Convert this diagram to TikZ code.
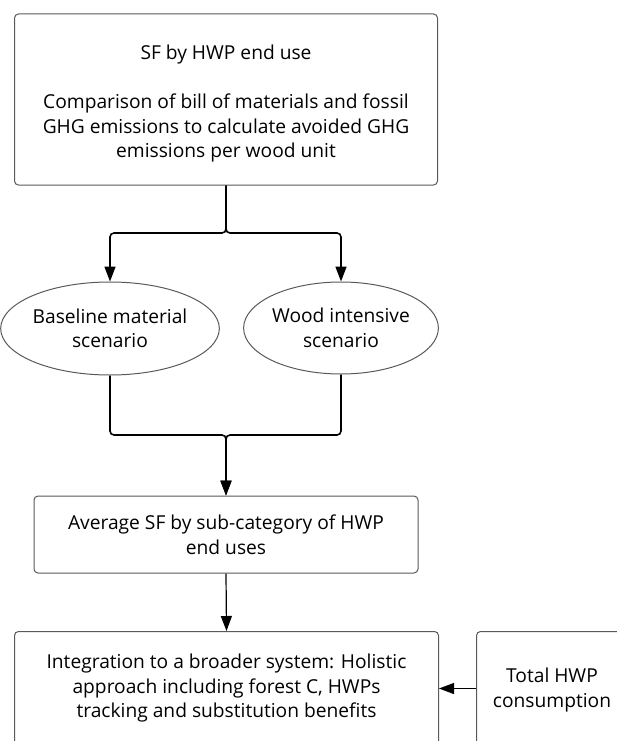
\documentclass[tikz,border=0pt]{standalone}
\usepackage{fontspec}
\setmainfont{Open Sans}
\usetikzlibrary{shapes.geometric,arrows.meta}

\begin{document}
\begin{tikzpicture}[x=1pt, y=-1pt,
  font=\fontsize{19.2}{24.5}\selectfont,
  box/.style={rectangle, draw=black!65, line width=1pt, rounded corners=4pt, align=center, inner sep=0pt},
  oval/.style={ellipse, draw=black!65, line width=1pt, align=center, inner sep=0pt},
  link/.style={line width=1.6pt, rounded corners=4pt},
  conn/.style={link, -{Triangle[length=15pt, width=11pt]}},
  connthin/.style={line width=1.2pt, -{Triangle[length=15pt, width=11pt]}}]

\useasboundingbox (0,0) rectangle (617,741);
\clip (0,0) rectangle (617,741);

\node (sf) [box, minimum width=423pt, minimum height=171pt] at (226,99.5) {};
\node (sftext) [align=center] at (226,104) {SF by HWP end use\\[24.5pt]Comparison of bill of materials and fossil\\GHG emissions to calculate avoided GHG\\emissions per wood unit};

\node (base) [oval, minimum width=194pt, minimum height=93pt] at (110,328.5) {Baseline material\\scenario};
\node (wood) [oval, minimum width=192pt, minimum height=92pt] at (341,328) {Wood intensive\\scenario};

\node (avg) [box, minimum width=384pt, minimum height=77pt] at (226,534.5) {Average SF by sub-category of HWP\\end uses};

\node (integ) [box, minimum width=424pt, minimum height=114pt, anchor=north west] at (14,631) {Integration to a broader system: Holistic\\approach including forest C, HWPs\\tracking and substitution benefits};
\node (total) [box, minimum width=152pt, minimum height=114pt, anchor=north west] at (476,631) {};
\node (totaltext) [align=center] at (552,690) {Total HWP\\consumption};

\coordinate (split) at (226,233);
\coordinate (join) at (226,435);

\draw[conn] (sf.south) -- (split) -| (base.north);
\draw[conn] (sf.south) -- (split) -| (wood.north);
\draw[conn] (base.south) |- (join) -- (avg.north);
\draw[conn] (wood.south) |- (join) -- (avg.north);
\draw[connthin] (avg.south) -- (integ.north);
\draw[connthin] (total.west) -- (integ.east);
\end{tikzpicture}
\end{document}
